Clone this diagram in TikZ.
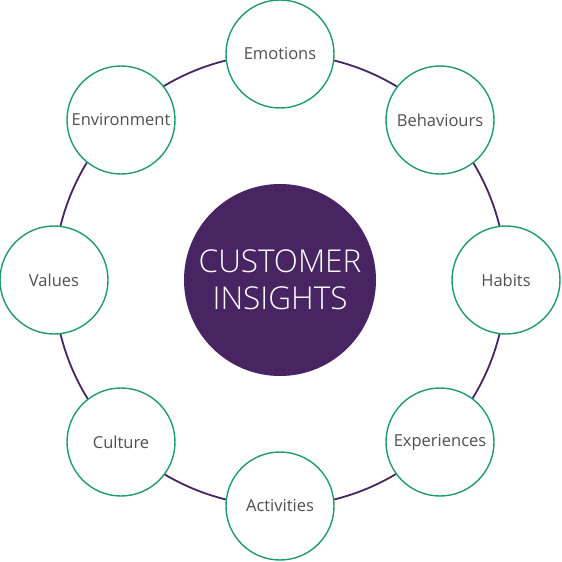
\documentclass[tikz,border=0pt]{standalone}
\usepackage{fontspec}
\setmainfont{Open Sans}
\newfontfamily\thinfont{Open Sans Light}
\usepackage{tikz}
\definecolor{insightpurple}{HTML}{482463}
\definecolor{insightgreen}{HTML}{1E9B6E}
\definecolor{insighttext}{HTML}{505050}
\tikzset{
  core/.style={circle, fill=insightpurple, minimum size=192pt, inner sep=0pt, align=center, text=white, font=\thinfont\fontsize{31.5}{37}\selectfont},
  facet/.style={circle, draw=insightgreen, line width=1.4pt, fill=white, minimum size=108pt, inner sep=0pt, text=insighttext, font=\fontsize{16.5}{19}\selectfont},
  ring/.style={draw=insightpurple, line width=1.8pt}
}
\begin{document}
\begin{tikzpicture}[x=1pt,y=-1pt]
  \useasboundingbox (0,0) rectangle (562,562);

  \node[core] (insights) at (280,280) {CUSTOMER\\INSIGHTS};
  \draw[ring] (insights.center) circle[radius=226];

  \node[facet] (emotions) at (280,54) {Emotions};
  \node[facet] (behaviours) at (440,120) {Behaviours};
  \node[facet] (habits) at (506,280) {Habits};
  \node[facet] (experiences) at (440,442) {Experiences};
  \node[facet] (activities) at (280,506) {Activities};
  \node[facet] (culture) at (121,442) {Culture};
  \node[facet] (values) at (54,280) {Values};
  \node[facet] (environment) at (121,120) {Environment};
\end{tikzpicture}
\end{document}
